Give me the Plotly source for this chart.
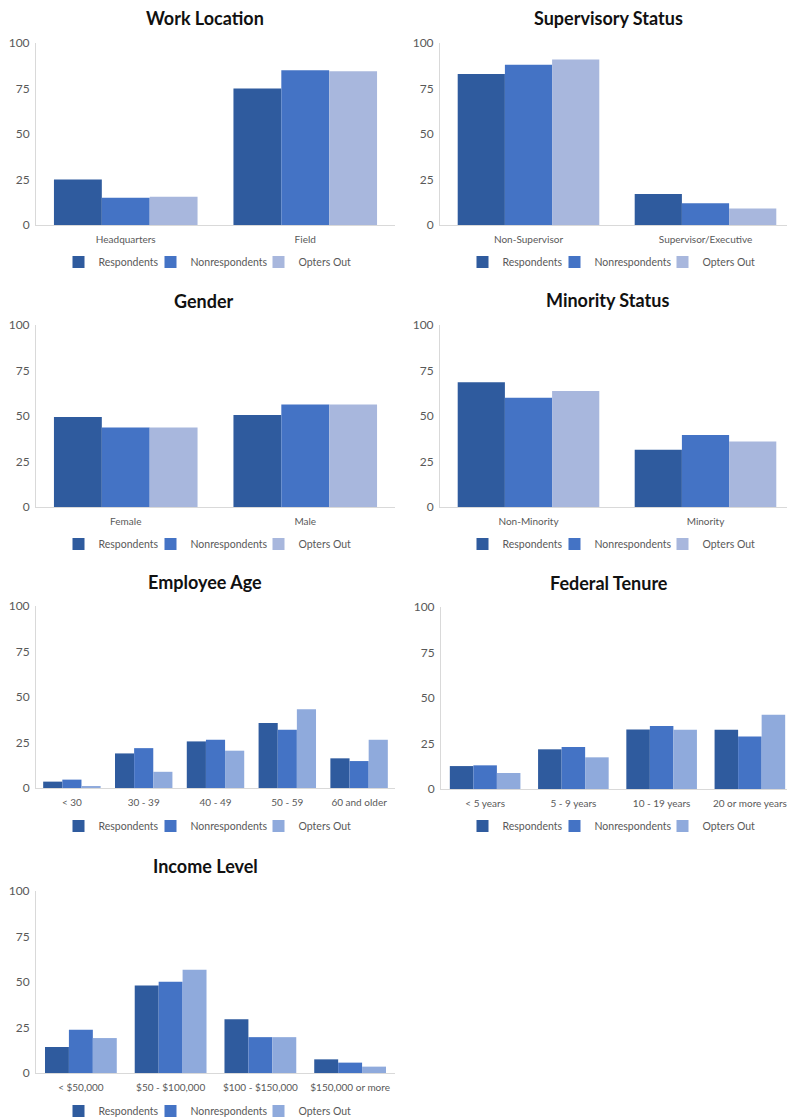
import plotly.graph_objects as go

W, H = 795, 1120
OFF = 8  # default page body margin
FW, FH = W - OFF, H - OFF

series_names = ["Respondents", "Nonrespondents", "Opters Out"]

work_cats = ["Headquarters", "Field"]
work_resp = [25, 75]
work_nonresp = [15, 85]
work_opt = [15.5, 84.5]

sup_cats = ["Non-Supervisor", "Supervisor/Executive"]
sup_resp = [83, 17]
sup_nonresp = [88, 12]
sup_opt = [91, 9]

gender_cats = ["Female", "Male"]
gender_resp = [49.5, 50.5]
gender_nonresp = [43.7, 56.3]
gender_opt = [43.7, 56.3]

min_cats = ["Non-Minority", "Minority"]
min_resp = [68.6, 31.4]
min_nonresp = [60, 39.5]
min_opt = [63.8, 36]

age_cats = ["< 30", "30 - 39", "40 - 49", "50 - 59", "60 and older"]
age_resp = [3.5, 19, 25.6, 35.7, 16.3]
age_nonresp = [4.6, 21.9, 26.5, 32, 14.8]
age_opt = [0.7, 8.9, 20.5, 43.3, 26.5]

ten_cats = ["< 5 years", "5 - 9 years", "10 - 19 years", "20 or more years"]
ten_resp = [12.6, 21.8, 32.7, 32.6]
ten_nonresp = [13, 23.1, 34.6, 28.9]
ten_opt = [8.8, 17.4, 32.6, 40.8]

inc_cats = ["< $50,000", "$50 - $100,000", "$100 - $150,000", "$150,000 or more"]
inc_resp = [14.3, 48.1, 29.6, 7.5]
inc_nonresp = [23.8, 50.1, 19.7, 5.7]
inc_opt = [19.2, 56.7, 19.7, 3.5]

y_ticks = [0, 25, 50, 75, 100]

C_RESP = "#2F5B9E"
C_NON = "#4473C5"
C_OPT2 = "#A8B7DD"
C_OPTN = "#8FAADC"


def fx(px):
    return (px - OFF) / FW


def fy(py):
    return 1 - (py - OFF) / FH


panels = [
    # title, cats, values, opt color, x-domain px, y0 px, y100 px, title x, title y, legend y, legend x
    ("Work Location", work_cats, (work_resp, work_nonresp, work_opt), C_OPT2, (36, 395), 225, 43, 205, 18, 262, 207),
    ("Supervisory Status", sup_cats, (sup_resp, sup_nonresp, sup_opt), C_OPT2, (440, 794), 225, 43, 608, 18, 262, 611),
    ("Gender", gender_cats, (gender_resp, gender_nonresp, gender_opt), C_OPT2, (36, 395), 507, 325, 204, 301, 544, 207),
    ("Minority Status", min_cats, (min_resp, min_nonresp, min_opt), C_OPT2, (440, 794), 507, 325, 607, 300, 544, 611),
    ("Employee Age", age_cats, (age_resp, age_nonresp, age_opt), C_OPTN, (36, 395), 788, 606, 205, 582, 826, 207),
    ("Federal Tenure", ten_cats, (ten_resp, ten_nonresp, ten_opt), C_OPTN, (441, 794), 789, 607, 609, 583, 826, 611),
    ("Income Level", inc_cats, (inc_resp, inc_nonresp, inc_opt), C_OPTN, (36, 395), 1073, 891, 205, 866, 1111, 207),
]

FONT = "Lato, 'Open Sans', sans-serif"
TICK_C = "#595959"
LINE_C = "#D9D9D9"
LEG_W = [47, 63, 52]

fig = go.Figure()
layout = {}
annotations = []

for i, (title, cats, vals, optc, xd, y0, y100, tx, ty, ly, lx) in enumerate(panels):
    k = i + 1
    sfx = "" if k == 1 else str(k)
    legname = "legend" if k == 1 else f"legend{k}"
    colors = [C_RESP, C_NON, optc]
    for name, v, c, lw in zip(series_names, vals, colors, LEG_W):
        fig.add_trace(go.Bar(
            x=cats, y=v, name=name, marker=dict(color=c, line=dict(width=0)),
            xaxis=f"x{sfx}", yaxis=f"y{sfx}", legend=legname, legendwidth=lw,
        ))
    layout[f"xaxis{sfx}"] = dict(
        domain=[fx(xd[0]), min(fx(xd[1]), 1)], anchor=f"y{sfx}", type="category",
        showline=True, linecolor=LINE_C, linewidth=1, showgrid=False, zeroline=False,
        ticks="outside", ticklen=5, tickcolor="rgba(0,0,0,0)",
        tickfont=dict(family=FONT, size=10, color=TICK_C), fixedrange=True,
    )
    layout[f"yaxis{sfx}"] = dict(
        domain=[fy(y0), fy(y100)], anchor=f"x{sfx}", range=[0, 100],
        tickvals=y_ticks, showline=True, linecolor=LINE_C, linewidth=1,
        showgrid=False, zeroline=False, ticks="outside", ticklen=3,
        tickcolor="rgba(0,0,0,0)",
        tickfont=dict(family=FONT, size=12, color=TICK_C), fixedrange=True,
    )
    layout[legname] = dict(
        orientation="h", x=fx(lx), xanchor="center", y=fy(ly), yanchor="middle",
        font=dict(family=FONT, size=10.5, color=TICK_C), bgcolor="rgba(0,0,0,0)",
        itemwidth=30, tracegroupgap=0,
    )
    annotations.append(dict(
        text=f"<b>{title}</b>", x=fx(tx), y=fy(ty), xref="paper", yref="paper",
        xanchor="center", yanchor="middle", showarrow=False,
        font=dict(family=FONT, size=18, color="#111111"),
    ))

fig.update_layout(
    width=FW, height=FH, margin=dict(l=0, r=0, t=0, b=0, autoexpand=False),
    paper_bgcolor="white", plot_bgcolor="white",
    barmode="group", bargap=0.2, bargroupgap=0,
    annotations=annotations, showlegend=True,
    **layout,
)

fig.write_html("out.html")
